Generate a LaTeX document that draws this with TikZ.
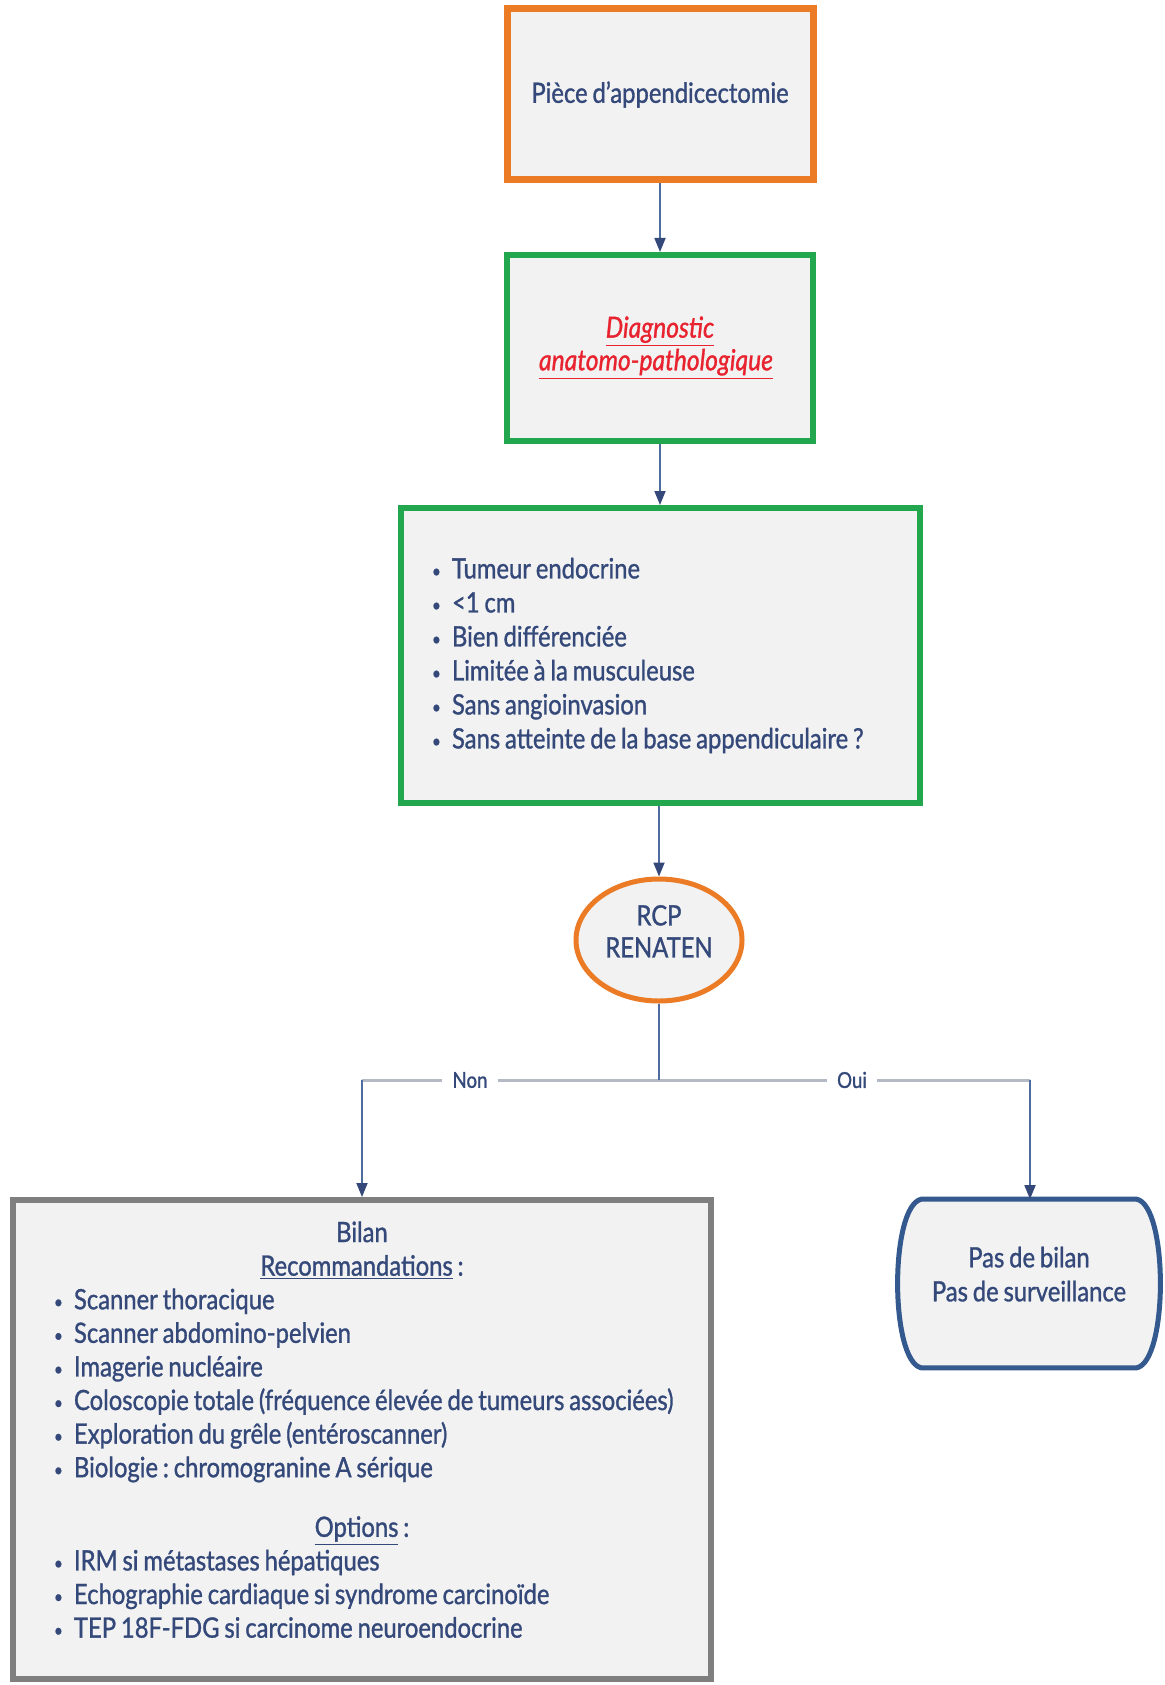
\documentclass[tikz,border=0pt]{standalone}
\usepackage{fontspec}
\setmainfont{Lato}[FakeStretch=0.85, FakeBold=1.1, WordSpace=0.8,
  ItalicFeatures={FakeBold=1.1}]
\usetikzlibrary{arrows.meta,shapes.geometric,backgrounds}

\definecolor{boxfill}{HTML}{F2F2F2}
\definecolor{navy}{HTML}{34497A}
\definecolor{linkblue}{HTML}{4F6C9E}
\definecolor{forkgray}{HTML}{B4B9C6}
\definecolor{orangeedge}{HTML}{EB7B25}
\definecolor{greenedge}{HTML}{22A64E}
\definecolor{grayedge}{HTML}{7F7F7F}
\definecolor{blueedge}{HTML}{33598E}
\definecolor{alertred}{HTML}{E8232F}

\frenchspacing
% one bulleted line, never broken
\newcommand\bul[1]{\mbox{\makebox[10pt][l]{\raisebox{0.5pt}{\fontsize{9}{9}\selectfont\textbullet}}#1}}
% centred block of lines, drawn #1 higher than its reported position
\newcommand\liftlines[2]{\raisebox{#1}[\height][\depth]{\begin{tabular}{@{}c@{}}#2\end{tabular}}}

\begin{document}
\begin{tikzpicture}[x=0.5pt,y=-0.5pt,
  txt/.style={text=navy, font=\fontsize{14}{17}\selectfont},
  box/.style={txt, rectangle, fill=boxfill, inner sep=0pt, align=center},
  conn/.style={draw=linkblue, line width=0.9pt,
    -{Triangle[width=5.5pt,length=7pt,color=navy]}},
  fork/.style={draw=forkgray, line width=1.5pt},
  branchlabel/.style={txt, fill=white, inner xsep=5pt, inner ysep=1pt,
    font=\fontsize{11}{13}\selectfont}
]
\begin{scope}[on background layer]
  \fill[white] (0,0) rectangle (1164,1685);
\end{scope}
\useasboundingbox (0,0) rectangle (1164,1685);

% main column
\node[box, draw=orangeedge, line width=3.5pt,
      minimum width=153pt, minimum height=85.5pt] (piece) at (660,94.5)
  {Pièce d'appendicectomie};

\node[box, draw=greenedge, line width=3pt,
      minimum width=153pt, minimum height=93pt, text=alertred,
      font=\itshape\fontsize{14.5}{15}\selectfont] (diag) at (660,348)
  {\underline{Diagnostic}\\\underline{anatomo-pathologique}\hspace*{4pt}};

\node[box, draw=greenedge, line width=3pt, align=flush left,
      text width=228.5pt, inner xsep=15.5pt,
      minimum height=147.5pt] (criteres) at (660.5,655.5)
  {\bul{Tumeur endocrine}\\
   \bul{<1 cm}\\
   \bul{Bien différenciée}\\
   \bul{Limitée à la musculeuse}\\
   \bul{Sans angioinvasion}\\
   \bul{Sans atteinte de la base appendiculaire ?}};

\node[box, ellipse, draw=orangeedge, line width=2.5pt,
      minimum width=83pt, minimum height=61pt]
  (rcp) at (659,940) {\liftlines{2.7pt}{RCP\\[-1pt]RENATEN}};

% outcomes
\node[box, draw=grayedge, line width=3pt,
      minimum width=349pt, minimum height=239.5pt] (bilan) at (362,1439.5) {};
\node[txt, align=flush left, text width=308pt, inner sep=0pt, anchor=north,
      font=\fontsize{14}{16.8}\selectfont] (bilantxt) at (362,1221)
  {\makebox[\linewidth][c]{Bilan}\\
   \makebox[\linewidth][c]{\underline{Recommandations} :}\\
   \bul{Scanner thoracique}\\
   \bul{Scanner abdomino-pelvien}\\
   \bul{Imagerie nucléaire}\\
   \bul{Coloscopie totale (fréquence élevée de tumeurs associées)}\\
   \bul{Exploration du grêle (entéroscanner)}\\
   \bul{Biologie : chromogranine A sérique}\\[13pt]
   \makebox[\linewidth][c]{\underline{Options} :}\\
   \bul{IRM si métastases hépatiques}\\
   \bul{Echographie cardiaque si syndrome carcinoïde}\\
   \bul{TEP 18F-FDG si carcinome neuroendocrine}};

\node[box, fill=none, minimum width=107pt, minimum height=84pt] (rien) at (1029,1283.5)
  {\liftlines{3pt}{Pas de bilan\\Pas de surveillance}};
\begin{scope}[on background layer]
\draw[blueedge, fill=boxfill, line width=2.5pt, line join=round]
  (rien.north west) -- (rien.north east)
  .. controls ([xshift=16pt,yshift=-3pt]rien.north east)
          and ([xshift=16pt,yshift=3pt]rien.south east) .. (rien.south east)
  -- (rien.south west)
  .. controls ([xshift=-16pt,yshift=3pt]rien.south west)
          and ([xshift=-16pt,yshift=-3pt]rien.north west) .. cycle;
\end{scope}

% connectors
\draw[conn] (piece) -- (diag);
\draw[conn] (diag) -- (criteres.north -| diag);
\draw[conn] (criteres.south -| rcp) -- (rcp);

\coordinate (split) at (659,1080);
\coordinate (splitL) at (362,1080);
\coordinate (splitR) at (1030,1080);
\draw[fork] (splitL) -- (splitR);
\draw[draw=linkblue, line width=0.9pt] (rcp.south) -- (split);
\node[branchlabel] (non) at (470,1080) {Non};
\node[branchlabel] (oui) at (852,1080) {Oui};
\draw[conn] (splitL) -- (bilan.north);
\draw[conn] (splitR) -- (rien.north -| splitR);
\end{tikzpicture}
\end{document}
